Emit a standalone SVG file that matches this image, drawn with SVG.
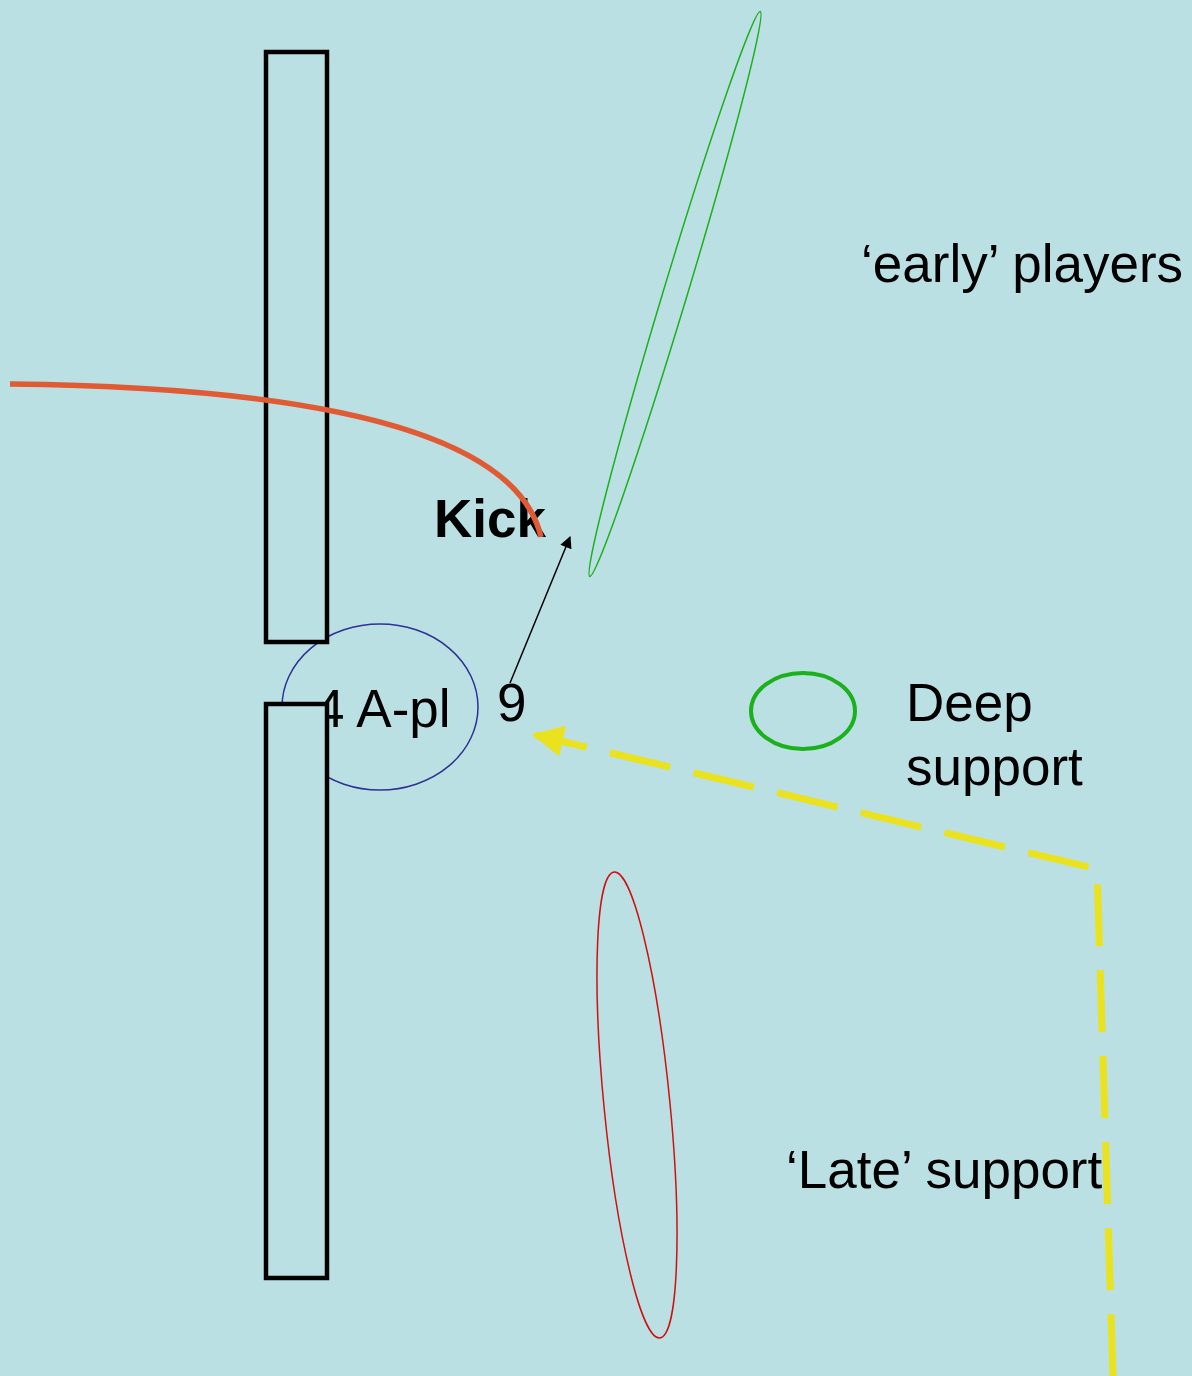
<svg xmlns="http://www.w3.org/2000/svg" width="1192" height="1376" viewBox="0 0 1192 1376">
<style>
text{font-family:"Liberation Sans",Arial,sans-serif;font-size:53px;fill:#000}
.bar{fill:#BAE0E3;stroke:#000;stroke-width:4.5}
</style>
<defs>
<marker id="ah" viewBox="0 0 10 10" refX="9" refY="5" markerWidth="16" markerHeight="12" markerUnits="userSpaceOnUse" orient="auto"><path d="M0,0 L10,5 L0,10 z" fill="#000"/></marker>
<marker id="yh" viewBox="0 0 10 10" refX="9" refY="5" markerWidth="4.5" markerHeight="4.5" orient="auto"><path d="M0,0 L10,5 L0,10 z" fill="#EAE21E"/></marker>
</defs>
<rect width="1192" height="1376" fill="#BAE0E3"/>
<g id="early-ellipse"><ellipse cx="675" cy="294" rx="12" ry="295" transform="rotate(16.8 675 294)" fill="none" stroke="#1DB01D" stroke-width="1.5"/></g>
<g id="late-ellipse"><ellipse cx="637" cy="1105" rx="33" ry="234" transform="rotate(-5.6 637 1105)" fill="none" stroke="#D01010" stroke-width="1.5"/></g>
<g id="deep-ellipse"><ellipse cx="803" cy="711" rx="52" ry="38" fill="none" stroke="#1DB01D" stroke-width="4"/></g>
<g id="apl"><ellipse cx="380" cy="707" rx="98" ry="83" fill="none" stroke="#2E3192" stroke-width="1.5"/><text x="315" y="727">4 A-pl</text></g>
<g id="bar-top"><rect class="bar" x="266" y="52" width="61" height="590"/></g>
<g id="bar-bottom"><rect class="bar" x="266" y="704" width="61" height="574"/></g>
<g id="labels">
<text x="861" y="282">‘early’ players</text>
<text x="906" y="721">Deep</text>
<text x="906" y="785">support</text>
<text x="786" y="1188">‘Late’ support</text>
<text x="497" y="721">9</text>
<text x="434" y="537" font-weight="bold" font-size="51">Kick</text>
</g>
<g id="connectors">
<path d="M10,384 C290,387 515,425 541,537" fill="none" stroke="#E05A33" stroke-width="5.5"/>
<line x1="510" y1="683" x2="570" y2="537" stroke="#000" stroke-width="1.5" marker-end="url(#ah)"/>
<path d="M1113,1376 L1097,869 L548,738" fill="none" stroke="#EAE21E" stroke-width="7" stroke-dasharray="62 24"/>
<path d="M562,741 L535,735" fill="none" stroke="#EAE21E" stroke-width="7" marker-end="url(#yh)"/>
</g>
</svg>
